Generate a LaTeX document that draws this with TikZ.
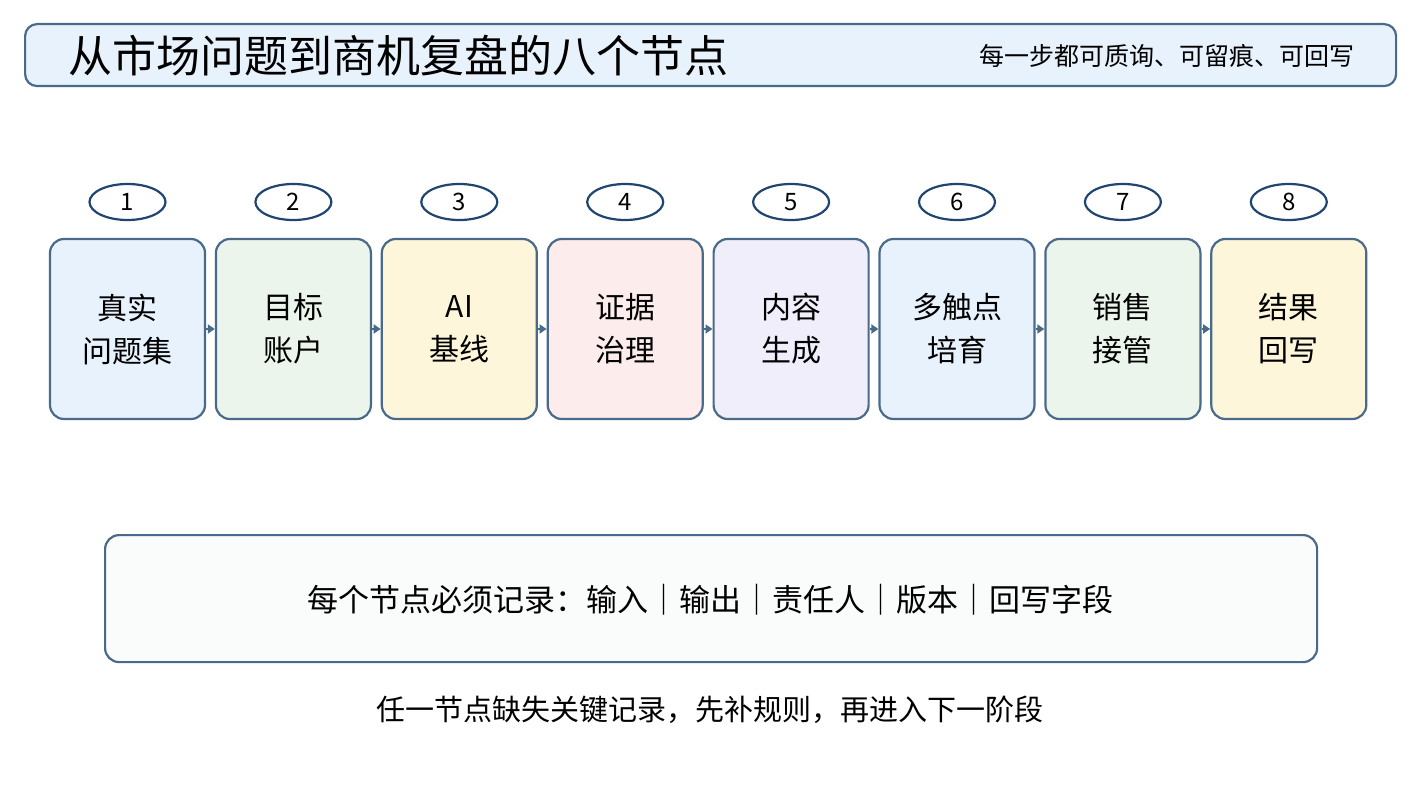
\documentclass[tikz,border=0pt]{standalone}
\usepackage{fontspec}
\setmainfont{Noto Sans CJK SC}
\usetikzlibrary{shapes.geometric,arrows.meta}
\definecolor{bd}{HTML}{4A6A8A}
\definecolor{ed}{HTML}{1F4570}
\definecolor{cb}{HTML}{E8F2FC}
\definecolor{cg}{HTML}{EBF5EC}
\definecolor{cy}{HTML}{FDF6DB}
\definecolor{cp}{HTML}{FCECEC}
\definecolor{cl}{HTML}{F0EEFB}
\begin{document}
\begin{tikzpicture}[x=1pt,y=-1pt,
 box/.style={draw=bd,line width=2.2pt,rounded corners=14pt,minimum width=155pt,minimum height=180pt,align=center,font=\fontsize{30}{43}\selectfont,inner sep=0pt},
 num/.style={draw=ed,line width=2.2pt,ellipse,minimum width=76pt,minimum height=36pt,inner sep=0pt,font=\fontsize{24}{26}\selectfont},
 arr/.style={-{Triangle[length=7pt,width=9pt]},bd,line width=2pt}]
\useasboundingbox (0,0) rectangle (1419,794);
\node[draw=bd,fill=cb,line width=2.2pt,rounded corners=12pt,minimum width=1371pt,minimum height=62pt,anchor=north west] (title) at (24,23) {};
\node[anchor=west,font=\fontsize{44}{48}\selectfont,inner sep=0pt] (tt) at (68,56) {从市场问题到商机复盘的八个节点};
\node[anchor=east,font=\fontsize{25}{28}\selectfont,inner sep=0pt] (st) at (1355,56) {每一步都可质询、可留痕、可回写};
\foreach \i/\c/\t in {1/cb/{真实\\问题集},2/cg/{目标\\账户},3/cy/{AI\\基线},4/cp/{证据\\治理},5/cl/{内容\\生成},6/cb/{多触点\\培育},7/cg/{销售\\接管},8/cy/{结果\\回写}}{
 \node[box,fill=\c] (b\i) at ({127.5+165.9*(\i-1)},329) {\t};
 \node[num] (n\i) at ({127.5+165.9*(\i-1)},202) {\i};
}
\foreach \i [count=\j from 2] in {1,...,7}{\draw[arr] (b\i.east) -- (b\j.west);}
\node[draw=bd,fill=white!97!bd,line width=2.2pt,rounded corners=14pt,minimum width=1212pt,minimum height=127pt,anchor=north west] (bot) at (104,534) {};
\node[font=\fontsize{31}{34}\selectfont] (bt) at (710,600) {每个节点必须记录：输入｜输出｜责任人｜版本｜回写字段};
\node[font=\fontsize{29}{32}\selectfont] (ft) at (710,710) {任一节点缺失关键记录，先补规则，再进入下一阶段};
\end{tikzpicture}
\end{document}
